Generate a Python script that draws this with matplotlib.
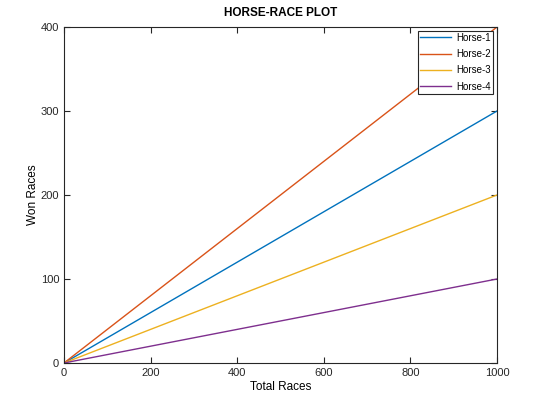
import matplotlib
matplotlib.use("Agg")
import matplotlib.pyplot as plt

plt.rcParams['font.family'] = ['Liberation Sans', 'DejaVu Sans']

total_races = [0, 1000]
horse_names = ['Horse-1', 'Horse-2', 'Horse-3', 'Horse-4']
won_races = [[0, 300], [0, 400], [0, 200], [0, 100]]
colors = ['#0072bd', '#d95319', '#edb120', '#7e2f8e']

fig = plt.figure(figsize=(5.35, 4.03), dpi=100)
ax = fig.add_axes([0.1196, 0.0993, 0.8094, 0.8337])

for name, won, c in zip(horse_names, won_races, colors):
    ax.plot(total_races, won, color=c, lw=1, label=name)

ax.set_xlim(0, 1000)
ax.set_ylim(0, 400)
ax.set_xticks([0, 200, 400, 600, 800, 1000])
ax.set_yticks([0, 100, 200, 300, 400])
ax.tick_params(direction='in', top=True, right=True, length=4, labelsize=8, colors='#262626')
for s in ax.spines.values():
    s.set_color('#262626')
    s.set_linewidth(0.8)

ax.set_xlabel('Total Races', fontsize=8.5, labelpad=2)
ax.set_ylabel('Won Races', fontsize=8.5, labelpad=1)
ax.set_title('HORSE-RACE PLOT', fontsize=8.5, fontweight='bold', pad=8)

leg = ax.legend(loc='upper right', fontsize=7, fancybox=False, framealpha=1,
                edgecolor='#262626', borderaxespad=0.4, handlelength=3.2,
                handletextpad=0.6, labelspacing=0.65, borderpad=0.2)
leg.get_frame().set_linewidth(0.8)

fig.savefig('out.png', dpi=100)
